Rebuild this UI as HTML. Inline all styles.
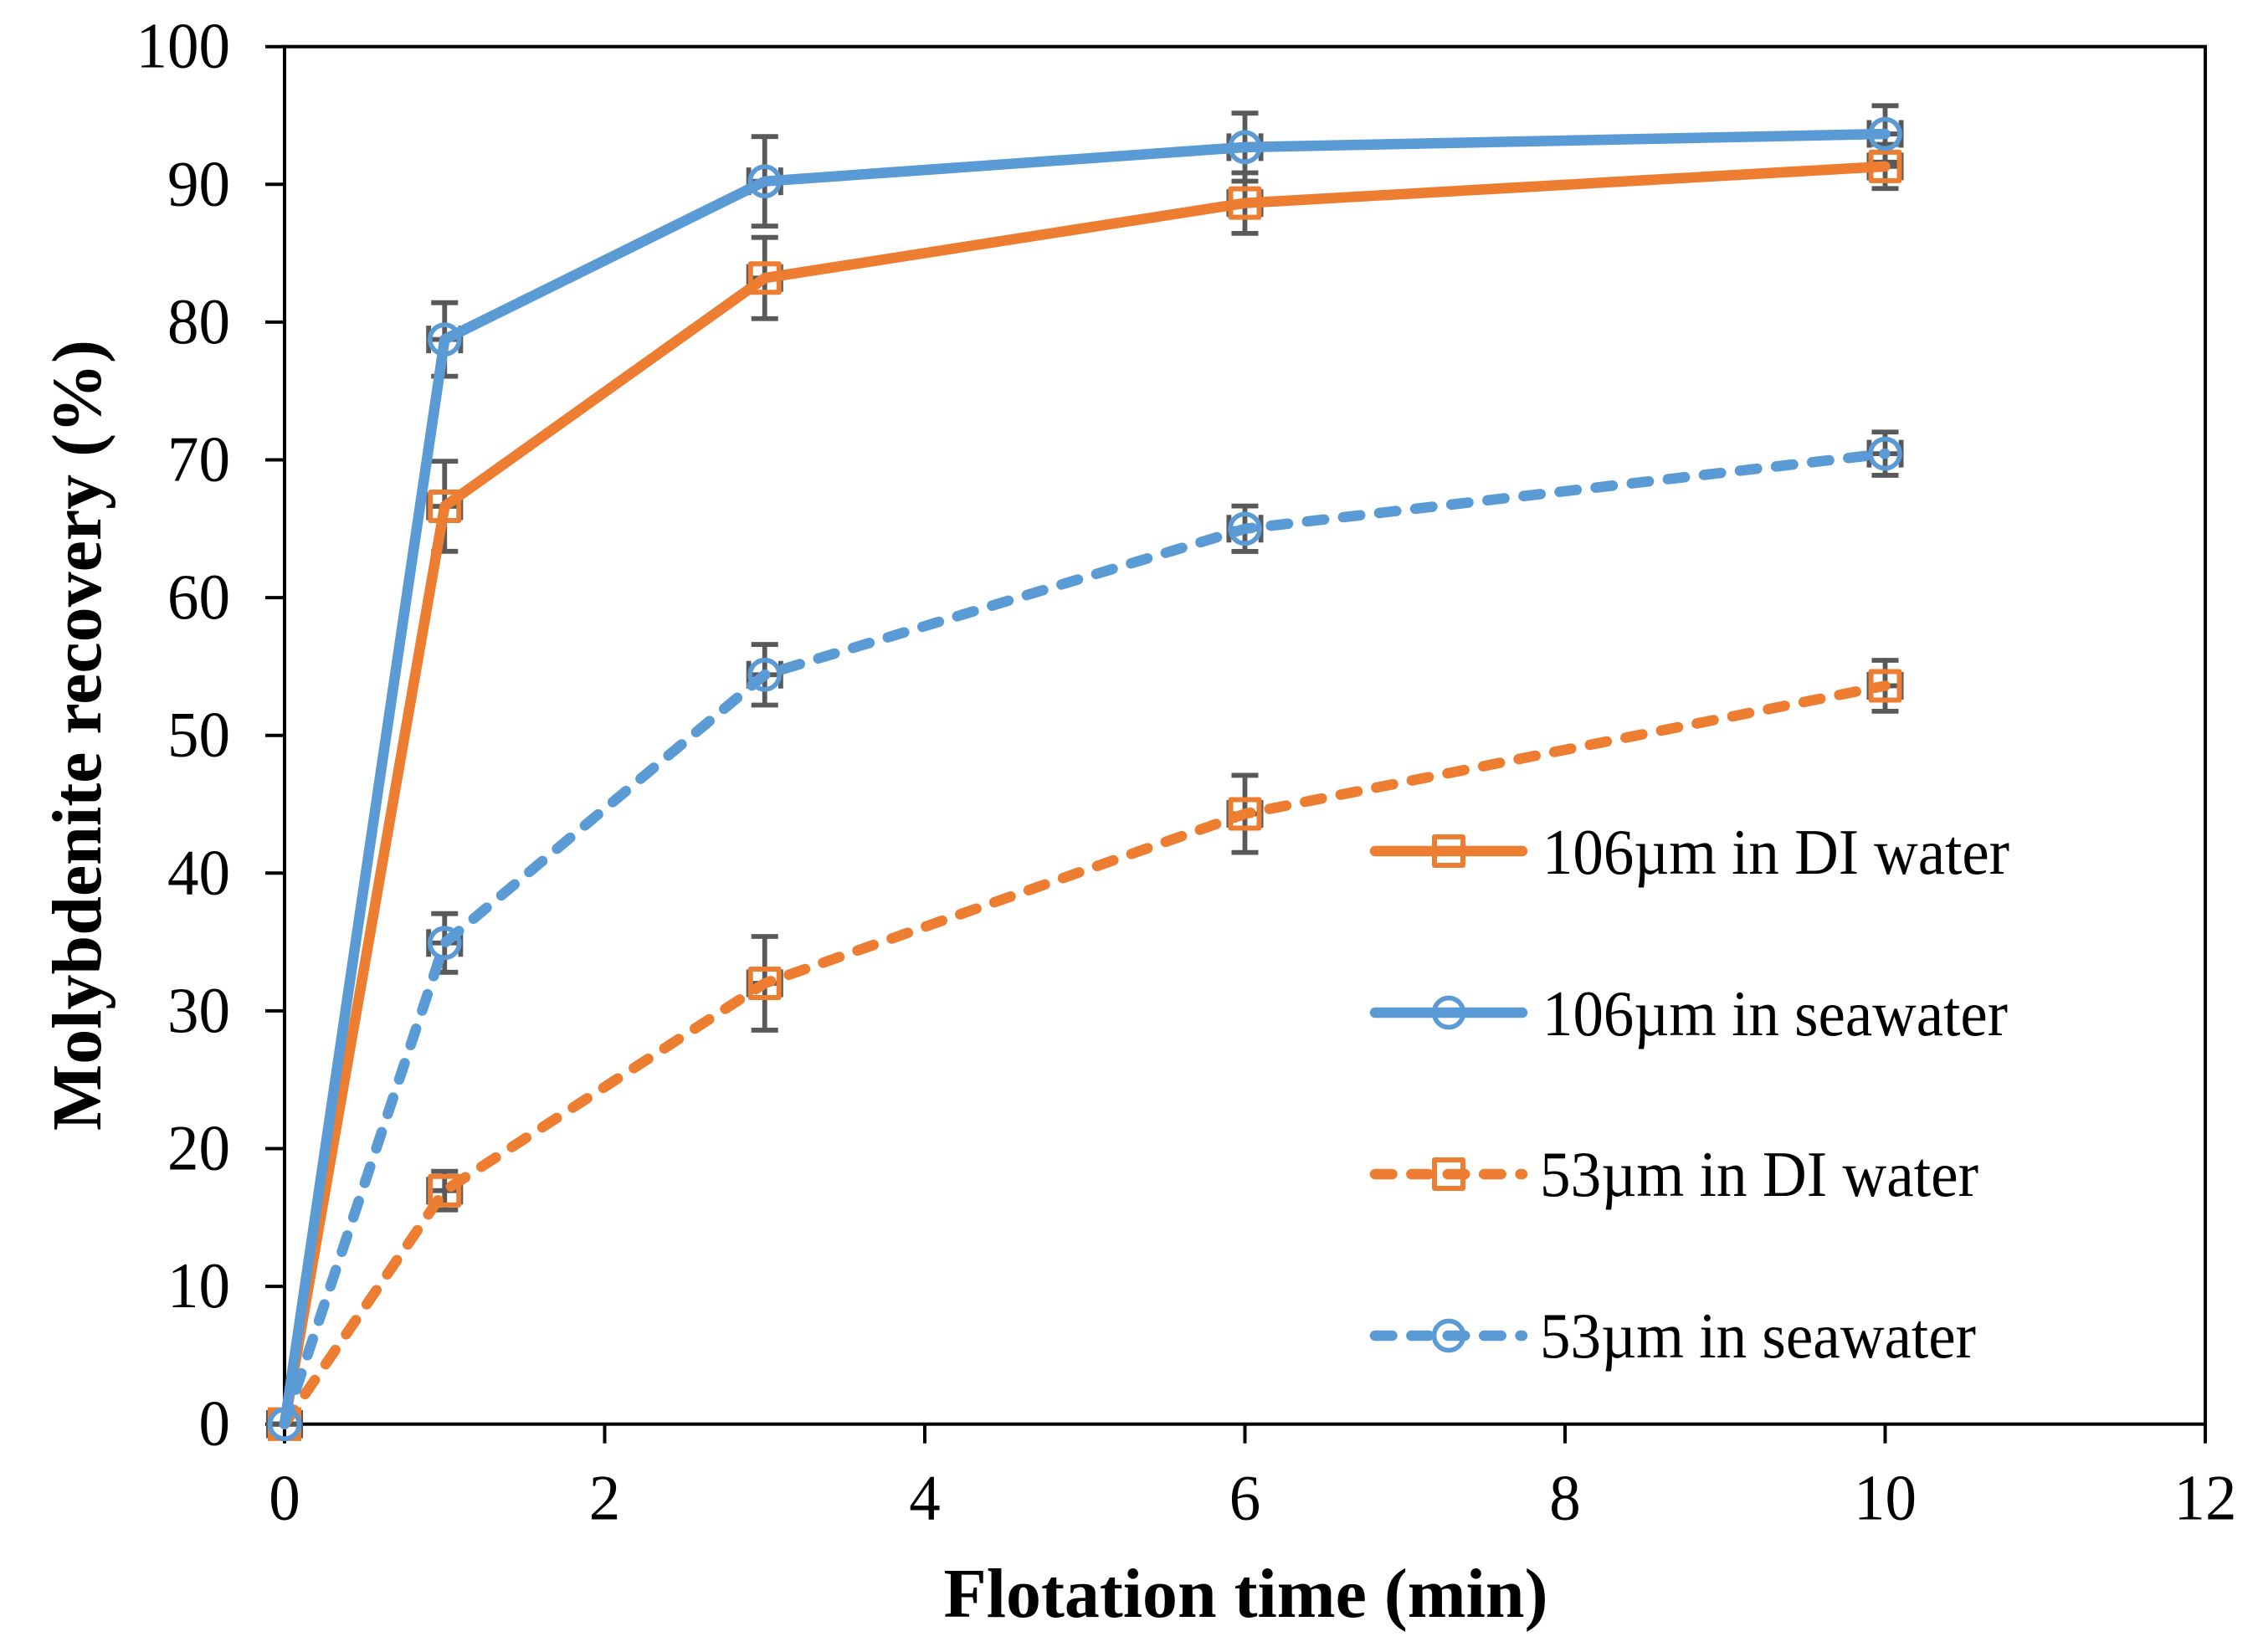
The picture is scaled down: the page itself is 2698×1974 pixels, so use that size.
<!DOCTYPE html>
<html lang="en">
<head>
<meta charset="utf-8">
<title>Molybdenite recovery vs flotation time</title>
<style>
html,body{margin:0;padding:0;background:#fff;}
svg{display:block;}
text{font-family:"Liberation Serif",serif;fill:#000;}
.tick{font-size:77px;}
.legend-text{font-size:77px;}
.title{font-size:84px;font-weight:bold;}
</style>
</head>
<body>
<svg id="chart" xmlns="http://www.w3.org/2000/svg" width="2698" height="1974" viewBox="0 0 2698 1974">
  <rect x="0" y="0" width="2698" height="1974" fill="#ffffff"/>
  <g id="axes"></g>
  <g id="errors"></g>
  <g id="series"></g>
  <text class="title" x="1127.5" y="1932" textLength="722" lengthAdjust="spacingAndGlyphs">Flotation time (min)</text>
  <text class="title" transform="translate(120,1351) rotate(-90)" x="0" y="0" textLength="945" lengthAdjust="spacingAndGlyphs">Molybdenite recovery (%)</text>
  <g>
    <g>
      <rect x="1714" y="1000" width="34" height="34" fill="none" stroke="#ED7D31" stroke-width="6" stroke-linejoin="round"/>
      <line x1="1643" y1="1017" x2="1819" y2="1017" stroke="#ED7D31" stroke-width="12.5" stroke-linecap="round"/>
      <text class="legend-text" x="1843" y="1044" textLength="558" lengthAdjust="spacingAndGlyphs">106µm in DI water</text>
    </g>
    <g>
      <circle cx="1731" cy="1210" r="17.5" fill="none" stroke="#5B9BD5" stroke-width="5.7"/>
      <line x1="1643" y1="1210" x2="1819" y2="1210" stroke="#5B9BD5" stroke-width="12.5" stroke-linecap="round"/>
      <text class="legend-text" x="1843" y="1237" textLength="556" lengthAdjust="spacingAndGlyphs">106µm in seawater</text>
    </g>
    <g>
      <rect x="1714" y="1386" width="34" height="34" fill="none" stroke="#ED7D31" stroke-width="6" stroke-linejoin="round"/>
      <line x1="1643" y1="1403" x2="1819" y2="1403" stroke="#ED7D31" stroke-width="12.5" stroke-linecap="round" stroke-dasharray="20.5 22.9"/>
      <text class="legend-text" x="1840" y="1429" textLength="524" lengthAdjust="spacingAndGlyphs">53µm in DI water</text>
    </g>
    <g>
      <circle cx="1731" cy="1596" r="17.5" fill="none" stroke="#5B9BD5" stroke-width="5.7"/>
      <line x1="1643" y1="1596" x2="1819" y2="1596" stroke="#5B9BD5" stroke-width="12.5" stroke-linecap="round" stroke-dasharray="20.5 22.9"/>
      <text class="legend-text" x="1840" y="1622" textLength="521" lengthAdjust="spacingAndGlyphs">53µm in seawater</text>
    </g>
  </g>
</svg>
<script>
const xTickValues = [0, 2, 4, 6, 8, 10, 12];
const yTickValues = [0, 10, 20, 30, 40, 50, 60, 70, 80, 90, 100];
const times = [0, 1, 3, 6, 10];
const timeErrors = [0.1, 0.1, 0.1, 0.1, 0.1];

const recovery106Di = [0, 66.63, 83.2, 88.64, 91.3];
const recovery106Sea = [0, 78.74, 90.22, 92.7, 93.66];
const recovery53Di = [0, 16.95, 32, 44.3, 53.6];
const recovery53Sea = [0, 34.93, 54.4, 65, 70.45];

const error106Di = [0, 3.27, 2.95, 2.2, 1.6];
const error106Sea = [0, 2.67, 3.25, 2.47, 2.05];
const error53Di = [0, 1.4, 3.4, 2.8, 1.85];
const error53Sea = [0, 2.13, 2.2, 1.65, 1.57];

const PLOT = {left: 340, right: 2635, top: 55.7, bottom: 1701.7, xMax: 12, yMax: 100};
const ORANGE = '#ED7D31';
const BLUE = '#5B9BD5';
const GREY = '#595959';
const NS = 'http://www.w3.org/2000/svg';

function xScale(v) { return PLOT.left + (PLOT.right - PLOT.left) * v / PLOT.xMax; }
function yScale(v) { return PLOT.bottom - (PLOT.bottom - PLOT.top) * v / PLOT.yMax; }

function make(tag, props, parent) {
  const node = document.createElementNS(NS, tag);
  for (const key in props) node.setAttribute(key, props[key]);
  parent.appendChild(node);
  return node;
}

const axesGroup = document.getElementById('axes');
const errorGroup = document.getElementById('errors');
const seriesGroup = document.getElementById('series');

const frame = make('rect', {x: PLOT.left, y: PLOT.top, width: PLOT.right - PLOT.left, height: PLOT.bottom - PLOT.top, fill: 'none', stroke: '#000', 'stroke-width': 4}, axesGroup);



function tickTextProps(label, x, y, anchor) {
  return {class: 'tick', x: x, y: y, 'text-anchor': anchor, textLength: String(label).length * 37.5, lengthAdjust: 'spacingAndGlyphs'};
}

xTickValues.forEach(function (v) {
  const mark = make('line', {x1: xScale(v), x2: xScale(v), y1: PLOT.bottom, y2: PLOT.bottom + 23, stroke: '#000', 'stroke-width': 4}, axesGroup);
  
  
  const label = make('text', tickTextProps(v, xScale(v), 1815.5, 'middle'), axesGroup);
  label.textContent = String(v);
  
  
});

yTickValues.forEach(function (v) {
  const mark = make('line', {x1: PLOT.left - 23, x2: PLOT.left, y1: yScale(v), y2: yScale(v), stroke: '#000', 'stroke-width': 4}, axesGroup);
  
  
  const label = make('text', tickTextProps(v, 275, yScale(v) + 25, 'end'), axesGroup);
  label.textContent = String(v);
  
  
});

function drawErrors(key, values, errors) {
  times.forEach(function (t, i) {
    const cx = xScale(t);
    const cy = yScale(values[i]);
    const pieces = [
      [xScale(t - timeErrors[i]), cy, xScale(t + timeErrors[i]), cy],
      [xScale(t - timeErrors[i]), cy - 16.5, xScale(t - timeErrors[i]), cy + 16.5],
      [xScale(t + timeErrors[i]), cy - 16.5, xScale(t + timeErrors[i]), cy + 16.5]
    ];
    if (errors[i] > 0) {
      const top = yScale(values[i] + errors[i]);
      const bottom = yScale(values[i] - errors[i]);
      pieces.push([cx, top, cx, bottom]);
      pieces.push([cx - 16, top, cx + 16, top]);
      pieces.push([cx - 16, bottom, cx + 16, bottom]);
    }
    const bar = make('path', {
      d: pieces.map(function (p) { return 'M' + p[0] + ' ' + p[1] + 'L' + p[2] + ' ' + p[3]; }).join(''),
      fill: 'none', stroke: GREY, 'stroke-width': 5.8
    }, errorGroup);
    
    
  });
}

function drawSeries(key, values, color, shape, dashed) {
  const group = make('g', {}, seriesGroup);
  
  
  times.forEach(function (t, i) {
    const cx = xScale(t);
    const cy = yScale(values[i]);
    let marker;
    if (shape === 'square' && t === 0) {
      marker = make('path', {
        d: 'M' + (cx - 20) + ' ' + (cy - 20) + 'h40v40h-40z' +
           'M' + (cx - 15) + ' ' + cy + 'a15 15 0 1 0 30 0a15 15 0 1 0 -30 0z',
        fill: color, 'fill-rule': 'evenodd'
      }, group);
    } else if (shape === 'square') {
      marker = make('rect', {x: cx - 17, y: cy - 17, width: 34, height: 34, fill: 'none', stroke: color, 'stroke-width': 6, 'stroke-linejoin': 'round'}, group);
    } else {
      marker = make('circle', {cx: cx, cy: cy, r: 17.5, fill: 'none', stroke: color, 'stroke-width': 5.7}, group);
    }
    
    
  });
  const props = {
    d: times.map(function (t, i) { return (i ? 'L' : 'M') + xScale(t) + ' ' + yScale(values[i]); }).join(''),
    fill: 'none', stroke: color, 'stroke-width': 12.5, 'stroke-linecap': 'round', 'stroke-linejoin': 'round'
  };
  if (dashed) props['stroke-dasharray'] = '20.5 22.9';
  const line = make('path', props, group);
  
  
}

drawErrors('106um-di-water', recovery106Di, error106Di);
drawErrors('106um-seawater', recovery106Sea, error106Sea);
drawErrors('53um-di-water', recovery53Di, error53Di);
drawErrors('53um-seawater', recovery53Sea, error53Sea);

drawSeries('106um-di-water', recovery106Di, ORANGE, 'square', false);
drawSeries('106um-seawater', recovery106Sea, BLUE, 'circle', false);
drawSeries('53um-di-water', recovery53Di, ORANGE, 'square', true);
drawSeries('53um-seawater', recovery53Sea, BLUE, 'circle', true);
</script>
</body>
</html>
